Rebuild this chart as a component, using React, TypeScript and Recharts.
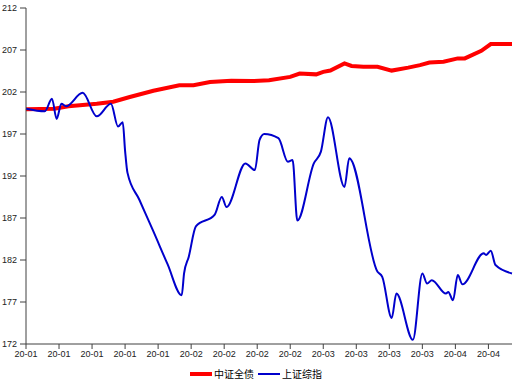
import { LineChart, Line, XAxis, YAxis, Legend } from 'recharts';

// days counted from the first date on the axis
const bondDays = [0, 6, 9, 15, 18.5, 22, 27, 32.5, 35.5, 39, 43.5, 48, 51.5, 56, 58, 61.5, 63, 64.5, 67.5, 69, 71.5, 74.5, 77.5, 81, 83.5, 85.5, 88.5, 91.5, 93, 96.5, 98.5, 103];
const bondValues = [199.95, 200.0, 200.3, 200.6, 200.85, 201.4, 202.15, 202.8, 202.8, 203.2, 203.35, 203.3, 203.4, 203.8, 204.2, 204.1, 204.4, 204.55, 205.4, 205.1, 205.0, 205.0, 204.55, 204.9, 205.2, 205.5, 205.6, 206.0, 206.0, 206.9, 207.7, 207.7];

const indexDays = [0, 4, 5.5, 6.5, 7.5, 8.5, 12, 15, 18, 19.5, 20.5, 21, 21.5, 24, 27, 30, 33, 33.5, 34.5, 36, 40, 41.5, 42.5, 46.5, 48.5, 49.5, 50.5, 53.5, 55.5, 56.5, 57.5, 61, 62.5, 64, 67.5, 68.5, 74.5, 75.5, 77.5, 78.5, 82, 84, 85, 86, 89, 89.5, 90.5, 91.5, 92.5, 97, 97.5, 98.5, 99.5, 103];
const indexValues = [200.0, 199.7, 201.2, 198.8, 200.6, 200.3, 201.9, 199.1, 200.6, 197.9, 198.4, 195.0, 192.4, 189.2, 185.4, 181.5, 177.8, 180.4, 182.4, 186.0, 187.4, 189.5, 188.3, 193.5, 192.7, 196.3, 197.0, 196.5, 193.7, 193.9, 186.7, 193.5, 194.9, 199.0, 190.7, 194.1, 180.6, 180.0, 175.1, 178.0, 172.5, 180.4, 179.2, 179.6, 178.0, 178.2, 177.2, 180.2, 179.1, 182.8, 182.6, 183.1, 181.4, 180.4];

const tickDays = [0, 7, 14, 21, 28, 35, 42, 49, 56, 63, 70, 77, 84, 91, 98];
const tickLabels = ['20-01', '20-01', '20-01', '20-01', '20-01', '20-02', '20-02', '20-02', '20-02', '20-03', '20-03', '20-03', '20-03', '20-04', '20-04'];
const yTicks = [172, 177, 182, 187, 192, 197, 202, 207, 212];

const bondName = '中证全债';
const indexName = '上证综指';

const bondData = bondDays.map((d, i) => ({ day: d, value: bondValues[i] }));
const indexData = indexDays.map((d, i) => ({ day: d, value: indexValues[i] }));

const font = 'Arial, "Liberation Sans", "Noto Sans CJK SC", sans-serif';

function ChartLegend() {
  const items = [
    { name: bondName, color: '#ff0000', w: 4 },
    { name: indexName, color: '#0000cc', w: 2 },
  ];
  return (
    <div style={{ display: 'flex', justifyContent: 'center', gap: 4, fontFamily: font, fontSize: 10, color: '#000' }}>
      {items.map((it) => (
        <div key={it.name} style={{ display: 'flex', alignItems: 'center' }}>
          <span style={{ display: 'inline-block', width: 22, height: it.w, background: it.color, marginRight: 2 }}></span>
          {it.name}
        </div>
      ))}
    </div>
  );
}

export default function App() {
  return (
    <div style={{ position: 'absolute', left: 0, top: 0, width: 523, height: 386, background: '#fff' }}>
      <LineChart width={523} height={386} margin={{ top: 8, right: 11, left: 0, bottom: 5 }}>
        <XAxis
          dataKey="day"
          type="number"
          domain={[0, 103]}
          ticks={tickDays}
          tickFormatter={(v: number) => tickLabels[tickDays.indexOf(v)] ?? ''}
          interval={0}
          height={22}
          stroke="#404040"
          tickSize={5}
          tick={{ fill: '#222', fontSize: 9, fontFamily: font }}
          allowDuplicatedCategory={false}
        />
        <YAxis
          type="number"
          domain={[172, 212]}
          ticks={yTicks}
          width={26}
          stroke="#404040"
          tickSize={6}
          tickMargin={3}
          tick={{ fill: '#222', fontSize: 9, fontFamily: font }}
          allowDataOverflow
        />
        <Legend verticalAlign="bottom" content={() => <ChartLegend />} />
        <Line data={bondData} dataKey="value" name={bondName} type="linear" stroke="#ff0000" strokeWidth={4} dot={false} isAnimationActive={false} />
        <Line data={indexData} dataKey="value" name={indexName} type="monotone" stroke="#0000cc" strokeWidth={2} dot={false} isAnimationActive={false} />
      </LineChart>
    </div>
  );
}
